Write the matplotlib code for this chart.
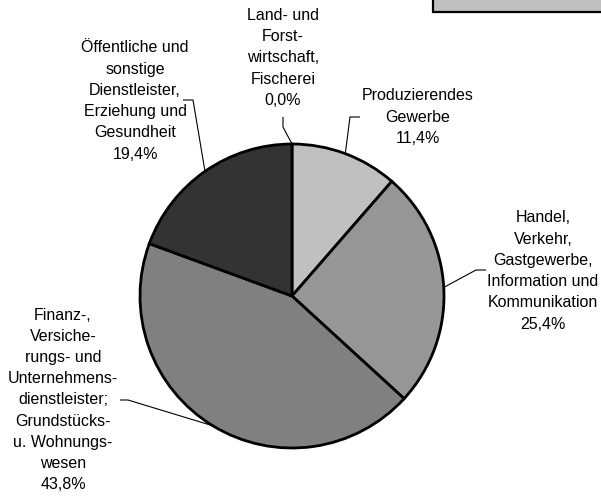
import numpy as np
import matplotlib.pyplot as plt
from matplotlib.patches import Rectangle

# Anteile der Wirtschaftsbereiche (im Uhrzeigersinn ab 12 Uhr)
sectors = [
    "Land- und\nForst-\nwirtschaft,\nFischerei",
    "Produzierendes\nGewerbe",
    "Handel,\nVerkehr,\nGastgewerbe,\nInformation und\nKommunikation",
    "Finanz-,\nVersiche-\nrungs- und\nUnternehmens-\ndienstleister;\nGrundstücks-\nu. Wohnungs-\nwesen",
    "Öffentliche und\nsonstige\nDienstleister,\nErziehung und\nGesundheit",
]
shares = [0.0, 11.4, 25.4, 43.8, 19.4]
pct_labels = ["0,0%", "11,4%", "25,4%", "43,8%", "19,4%"]
colors = ["#c0c0c0", "#c0c0c0", "#969696", "#808080", "#333333"]

W, H = 601, 496
cx, cy, r = 292, 296, 152

# label layout in pixel coords: text centre, leader elbow, leader end
text_pos = [(283, 58), (418, 117), (543, 271), (63, 400), (135, 101)]
elbows = [(283, 127), (350, 117), (476, 270), (128, 400), (193, 100)]
ends = [(283, 117), (360, 117), (486, 270), (120, 400), (183, 100)]

plt.rcParams['font.family'] = ['Liberation Sans', 'DejaVu Sans']

fig = plt.figure(figsize=(W / 100, H / 100), dpi=100)
ax = fig.add_axes([0, 0, 1, 1])
ax.set_xlim(0, W)
ax.set_ylim(0, H)
ax.set_aspect('equal')
ax.axis('off')

wedges, _ = ax.pie(shares, colors=colors, startangle=90, counterclock=False,
                   center=(cx, H - cy), radius=r,
                   wedgeprops=dict(edgecolor='black', linewidth=2))
ax.set_xlim(0, W)
ax.set_ylim(0, H)

for i, w in enumerate(wedges):
    mid = np.deg2rad((w.theta1 + w.theta2) / 2)
    ex = cx + r * np.cos(mid)
    ey = (H - cy) + r * np.sin(mid)
    ax.plot([ex, elbows[i][0], ends[i][0]],
            [ey, H - elbows[i][1], H - ends[i][1]],
            color='black', linewidth=0.8, solid_capstyle='butt')
    ax.text(text_pos[i][0], H - text_pos[i][1],
            sectors[i] + "\n" + pct_labels[i],
            ha='center', va='center', multialignment='center',
            fontsize=11.5, linespacing=1.52, color='black')

# angeschnittener Rahmen oben rechts
ax.add_patch(Rectangle((433, H - 12), 200, 40, facecolor='#c0c0c0',
                       edgecolor='black', linewidth=1.6, clip_on=False))

fig.savefig('out.png', dpi=100)
